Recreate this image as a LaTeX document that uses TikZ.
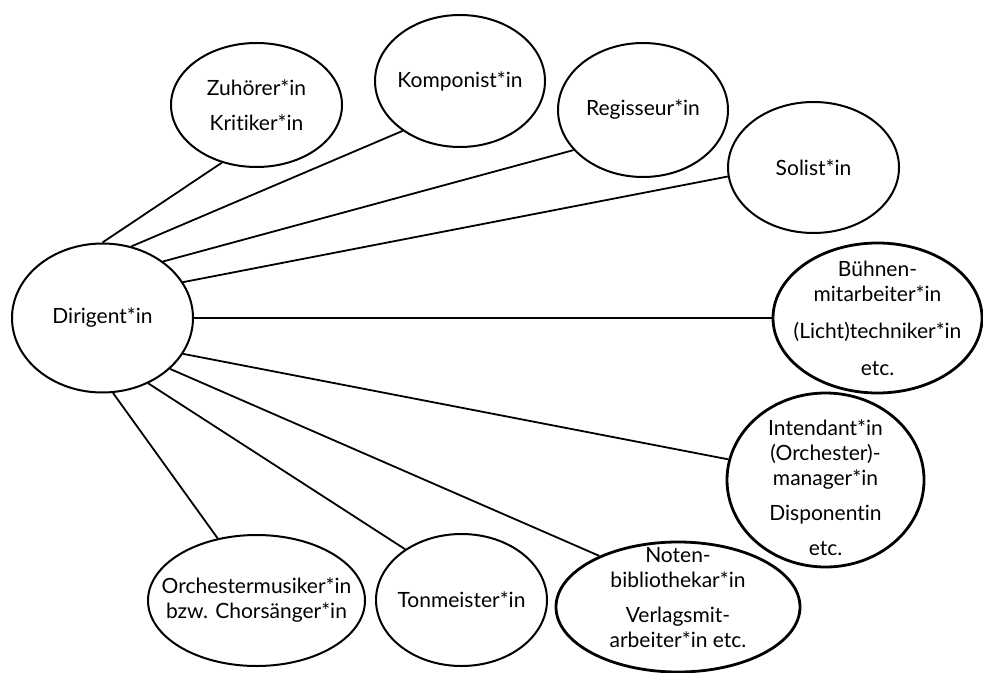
\documentclass[tikz,border=0pt]{standalone}
\usepackage{fontspec}
\setmainfont{Lato}[Ligatures=NoCommon]
\usetikzlibrary{shapes.geometric}

\begin{document}
\begin{tikzpicture}[x=0.5pt,y=-0.5pt,
    role/.style 2 args={
% The shape:
ellipse,
% The size:
minimum width=#1, minimum height=#2, inner sep=-12pt,
% The border:
draw, line width=1pt,
% The text:
align=center, font=\fontsize{10.5}{12.5}\selectfont,
},
    bold role/.style={line width=1.4pt},
    link/.style={line width=0.9pt},
]
  \useasboundingbox (0,0) rectangle (983,673);

  \node[role={90.5pt}{74.5pt}] (dir) at (102.5,318) {Dirigent*in};
  \node[role={85.5pt}{62pt}]   (zuh) at (256.5,105) {Zuhörer*in\\[5pt]Kritiker*in};
  \node[role={85pt}{66pt}]     (kom) at (460,81) {Komponist*in};
  \node[role={85pt}{67pt}]     (reg) at (643,110) {Regisseur*in};
  \node[role={85.5pt}{65.5pt}] (sol) at (813.5,167.5) {Solist*in};
  \node[role={104.5pt}{75pt},bold role] (buehne) at (877.5,318)
      {Bühnen-\\mitarbeiter*in\\[6pt](Licht)techniker*in\\[6pt]etc.};
  \node[role={98.5pt}{87pt},bold role] (intd) at (825.5,480)
      {\rule{0pt}{16pt}Intendant*in\\(Orchester)-\\manager*in\\[5pt]Disponentin\\[5pt]etc.};
  \node[role={122pt}{65pt},bold role] (noten) at (678,607)
      {Noten-\\bibliothekar*in\\[5pt]Verlagsmit-\\arbeiter*in etc.\rule[-10pt]{0pt}{10pt}};
  \node[role={85.5pt}{66pt}]   (ton) at (461.5,600) {Tonmeister*in};
  \node[role={108.5pt}{65.5pt}] (orch) at (256.5,600.5)
      {Orchestermusiker*in\\bzw. Chorsänger*in};

  % connectors from the conductor
  \draw[link] (dir.90)   -- (zuh.239);
  \draw[link] (dir.68)   -- (kom.221);
  \draw[link] (dir.43)   -- (reg.210);
  \draw[link] (dir.24)   -- (sol.186);
  \draw[link] (dir.0)    -- (buehne.180);
  \draw[link] (dir.-24)  -- (intd.168);
  \draw[link] (dir.-37)  -- (noten.147);
  \draw[link] (dir.-55)  -- (ton.138);
  \draw[link] (dir.-82)  -- (orch.122);

\end{tikzpicture}
\end{document}
